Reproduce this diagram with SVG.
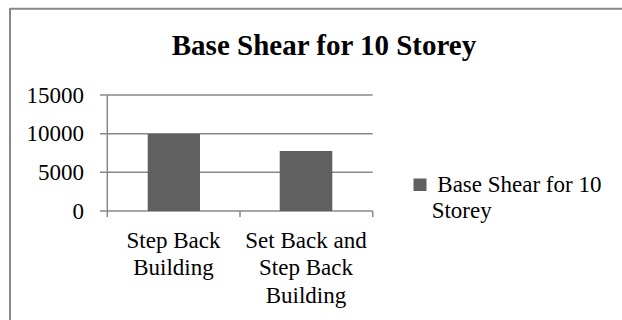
<svg xmlns="http://www.w3.org/2000/svg" width="622" height="320" viewBox="0 0 622 320">
  <style>
    .frame { stroke: #878787; stroke-width: 2; fill: none; }
    .grid { stroke: #888888; stroke-width: 1.5; fill: none; }
    .bar { fill: #606060; }
    .title { font-family: "Liberation Serif", "Times New Roman", serif; font-size: 29px; font-weight: bold; fill: #000; }
    .lbl { font-family: "Liberation Serif", "Times New Roman", serif; font-size: 23px; fill: #000; }
    .ylbl { text-anchor: end; }
    .cat { text-anchor: middle; }
  </style>
  <rect width="622" height="320" fill="#ffffff"/>

  <!-- chart frame (top and left edges) -->
  <g id="frame">
    <line class="frame" x1="10" y1="8.8" x2="622" y2="8.8"/>
    <line class="frame" x1="10" y1="8" x2="10" y2="320"/>
  </g>

  <g id="title">
    <text class="title" x="324" y="55" text-anchor="middle">Base Shear for 10 Storey</text>
  </g>

  <!-- gridlines and axes -->
  <g id="axes">
    <line class="grid" x1="100" y1="95" x2="372.7" y2="95"/>
    <line class="grid" x1="100" y1="133.7" x2="372.7" y2="133.7"/>
    <line class="grid" x1="100" y1="172.3" x2="372.7" y2="172.3"/>
    <line class="grid" x1="100" y1="211" x2="372.7" y2="211"/>
    <line class="grid" x1="107.3" y1="95" x2="107.3" y2="217"/>
    <line class="grid" x1="240" y1="211" x2="240" y2="217"/>
    <line class="grid" x1="372.7" y1="211" x2="372.7" y2="217"/>
  </g>

  <g id="y-labels">
    <text class="lbl ylbl" x="84" y="102.5">15000</text>
    <text class="lbl ylbl" x="84" y="141.2">10000</text>
    <text class="lbl ylbl" x="84" y="179.8">5000</text>
    <text class="lbl ylbl" x="84" y="218.5">0</text>
  </g>

  <g id="bar-step-back">
    <rect class="bar" x="147.7" y="134" width="52.3" height="77"/>
  </g>
  <g id="bar-set-back-step-back">
    <rect class="bar" x="279.7" y="151" width="52.6" height="60"/>
  </g>

  <g id="x-labels">
    <text class="lbl cat" x="173.5" y="247.5">Step Back</text>
    <text class="lbl cat" x="173.5" y="275">Building</text>
    <text class="lbl cat" x="306" y="247.5">Set Back and</text>
    <text class="lbl cat" x="306" y="275">Step Back</text>
    <text class="lbl cat" x="306" y="302.5">Building</text>
  </g>

  <g id="legend">
    <rect class="bar" x="413.5" y="178.5" width="13" height="12.5"/>
    <text class="lbl" x="437.3" y="191.7">Base Shear for 10</text>
    <text class="lbl" x="431.7" y="218.3">Storey</text>
  </g>
</svg>
